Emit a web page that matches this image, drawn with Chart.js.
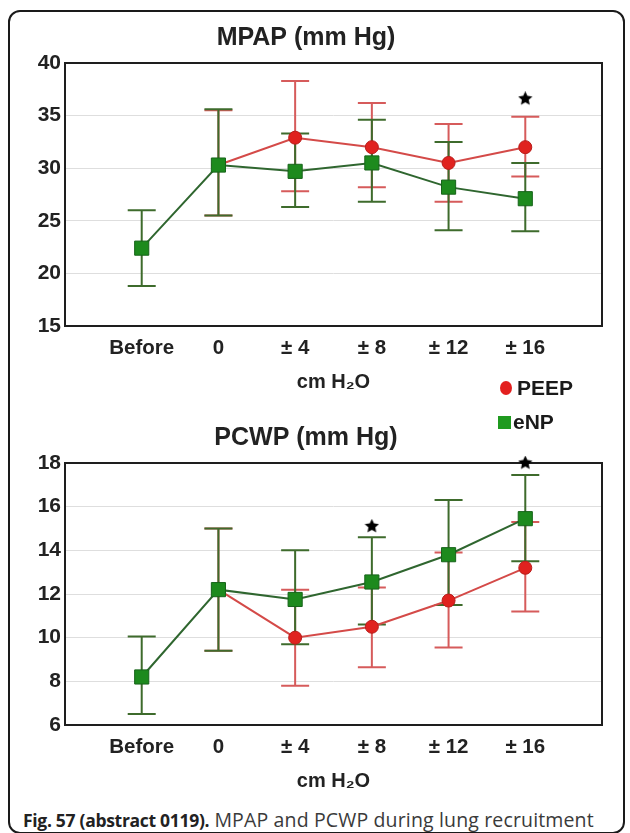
<!DOCTYPE html>
<html>
<head>
<meta charset="utf-8">
<script src="https://cdn.jsdelivr.net/npm/chart.js@4.4.1/dist/chart.umd.min.js"></script>
<style>
  body { margin: 0; background: #fff; width: 630px; height: 833px; position: relative; overflow: hidden; }
  #frame { position: absolute; left: 8px; top: 10px; width: 613px; height: 820px; border: 2px solid #1a1a1a; border-radius: 12px; }
  .wrap { position: absolute; left: 10px; width: 610px; }
  #topWrap { top: 14px; height: 380px; }
  #botWrap { top: 414px; height: 379px; }
  .leg { position: absolute; display: flex; align-items: center; font: bold 21px "Liberation Sans", Arial, sans-serif; color: #1a1a1a; }
  .dot { display: inline-block; width: 12px; height: 14px; border-radius: 50%; background: #e3201f; margin-right: 5px; }
  .sq { display: inline-block; width: 13px; height: 13px; background: #1f9a1f; margin-right: 2px; }
  #caption { position: absolute; left: 23px; top: 806px; font: 19.5px "Open Sans", sans-serif; color: #3a3a3a; white-space: nowrap; letter-spacing: 0.15px; }
  #caption b { color: #222; font-weight: 700; font-size: 17.5px; letter-spacing: -0.3px; }
</style>
</head>
<body>
<div id="frame"></div>
<div class="wrap" id="topWrap"><canvas id="mpapChart"></canvas></div>
<div class="wrap" id="botWrap"><canvas id="pcwpChart"></canvas></div>
<div class="leg" style="left:500px;top:376px"><span class="dot"></span>PEEP</div>
<div class="leg" style="left:498px;top:410px"><span class="sq"></span>eNP</div>
<div id="caption"><b>Fig. 57 (abstract 0119).</b> MPAP and PCWP during lung recruitment</div>

<script>
const categories = ["Before", "0", "± 4", "± 8", "± 12", "± 16"];

// MPAP (mm Hg)
const mpapTicks = [15, 20, 25, 30, 35, 40];
const mpapPeep = [null, 30.3, 32.9, 32.0, 30.5, 32.0];
const mpapPeepHi = [null, 35.5, 38.3, 36.2, 34.2, 34.9];
const mpapPeepLo = [null, 25.5, 27.8, 28.2, 26.8, 29.2];
const mpapEnp = [22.4, 30.3, 29.7, 30.5, 28.2, 27.1];
const mpapEnpHi = [26.0, 35.6, 33.3, 34.6, 32.5, 30.5];
const mpapEnpLo = [18.8, 25.5, 26.3, 26.8, 24.1, 24.0];
const mpapStars = [null, null, null, null, null, 36.6];

// PCWP (mm Hg)
const pcwpTicks = [6, 8, 10, 12, 14, 16, 18];
const pcwpPeep = [null, 12.2, 10.0, 10.5, 11.7, 13.2];
const pcwpPeepHi = [null, 15.0, 12.2, 12.3, 13.9, 15.3];
const pcwpPeepLo = [null, 9.4, 7.8, 8.65, 9.55, 11.2];
const pcwpEnp = [8.2, 12.2, 11.75, 12.55, 13.8, 15.45];
const pcwpEnpHi = [10.05, 15.0, 14.0, 14.6, 16.3, 17.45];
const pcwpEnpLo = [6.5, 9.4, 9.7, 10.6, 11.5, 13.5];
const pcwpStars = [null, null, null, 15.1, null, 18.0];

const RED_LINE = "#d44a48";
const RED_BAR = "#d65b5b";
const GREEN_LINE = "#2f662f";
const GREEN_BAR = "#3e6b2c";
const FONT = "'Liberation Sans', Arial, sans-serif";

function toPoints(arr) {
  return arr.map((v, i) => (v == null ? null : { x: i + 1, y: v })).filter(p => p);
}

function starImage(size) {
  const c = document.createElement("canvas");
  c.width = c.height = size;
  const g = c.getContext("2d");
  g.fillStyle = "#000";
  g.beginPath();
  for (let i = 0; i < 10; i++) {
    const r = i % 2 ? size * 0.24 : size / 2;
    const a = -Math.PI / 2 + i * Math.PI / 5;
    g.lineTo(size / 2 + r * Math.cos(a), size / 2 + r * Math.sin(a));
  }
  g.closePath();
  g.fill();
  return c;
}
const star = starImage(15);

// plot box drawn around the chart area
const plotBox = {
  id: "plotBox",
  beforeDatasetsDraw(chart) {
    const { ctx, chartArea: a } = chart;
    ctx.save();
    ctx.strokeStyle = "#1e1e1e";
    ctx.lineWidth = 2;
    ctx.strokeRect(a.left, a.top, a.right - a.left, a.bottom - a.top);
    ctx.restore();
  }
};

function errorBars(sets) {
  return {
    id: "errorBars",
    beforeDatasetsDraw(chart) {
      const { ctx, scales: { x, y } } = chart;
      sets.forEach(s => {
        ctx.save();
        ctx.strokeStyle = s.color;
        ctx.lineWidth = 2;
        ctx.beginPath();
        s.mean.forEach((m, i) => {
          if (m == null) return;
          const px = x.getPixelForValue(i + 1);
          const hi = y.getPixelForValue(s.hi[i]);
          const lo = y.getPixelForValue(s.lo[i]);
          ctx.moveTo(px, hi); ctx.lineTo(px, lo);
          ctx.moveTo(px - 14, hi); ctx.lineTo(px + 14, hi);
          ctx.moveTo(px - 14, lo); ctx.lineTo(px + 14, lo);
        });
        ctx.stroke();
        ctx.restore();
      });
    }
  };
}

function makeChart(id, title, ticks, peep, peepHi, peepLo, enp, enpHi, enpLo, stars) {
  return new Chart(document.getElementById(id), {
    type: "line",
    data: {
      datasets: [
        {
          label: "sig",
          data: toPoints(stars),
          showLine: false,
          pointStyle: star,
          pointRadius: 7,
          clip: false
        },
        {
          label: "eNP",
          data: toPoints(enp),
          borderColor: GREEN_LINE,
          borderWidth: 2,
          pointStyle: "rect",
          pointRadius: 10,
          pointBackgroundColor: "#1d8a1d",
          pointBorderColor: "#17641a",
          pointBorderWidth: 1,
          tension: 0
        },
        {
          label: "PEEP",
          data: toPoints(peep),
          borderColor: RED_LINE,
          borderWidth: 2,
          pointStyle: "circle",
          pointRadius: 6.5,
          pointBackgroundColor: "#e0221f",
          pointBorderColor: "#b81d1b",
          pointBorderWidth: 1,
          tension: 0
        }
      ]
    },
    options: {
      responsive: true,
      maintainAspectRatio: false,
      animation: false,
      layout: { padding: { left: 0, right: 18, top: 0, bottom: 0 } },
      plugins: {
        legend: { display: false },
        tooltip: { enabled: false },
        title: {
          display: true,
          text: title,
          color: "#222",
          font: { family: FONT, size: 25, weight: "bold" },
          padding: { top: 9, bottom: 10 }
        }
      },
      scales: {
        x: {
          type: "linear",
          min: 0,
          max: categories.length + 1,
          afterBuildTicks(s) { s.ticks = categories.map((c, i) => ({ value: i + 1 })); },
          afterFit(s) { s.height = 68; },
          ticks: {
            callback: v => categories[v - 1],
            color: "#222",
            font: { family: FONT, size: 20.5, weight: "bold" },
            padding: 2,
            maxRotation: 0,
            autoSkip: false
          },
          grid: { display: false },
          border: { display: false },
          title: {
            display: true,
            text: "cm H₂O",
            color: "#222",
            font: { family: FONT, size: 20, weight: "bold" },
            padding: { top: 2, bottom: 0 }
          }
        },
        y: {
          min: ticks[0],
          max: ticks[ticks.length - 1],
          afterBuildTicks(s) { s.ticks = ticks.map(v => ({ value: v })); },
          afterFit(s) { s.width = 55; },
          ticks: {
            color: "#222",
            font: { family: FONT, size: 21, weight: "bold" },
            padding: 4
          },
          grid: { color: "#dedede", lineWidth: 1, drawTicks: false },
          border: { display: false }
        }
      }
    },
    plugins: [
      plotBox,
      errorBars([
        { mean: peep, hi: peepHi, lo: peepLo, color: RED_BAR },
        { mean: enp, hi: enpHi, lo: enpLo, color: GREEN_BAR }
      ])
    ]
  });
}

makeChart("mpapChart", "MPAP (mm Hg)", mpapTicks, mpapPeep, mpapPeepHi, mpapPeepLo,
  mpapEnp, mpapEnpHi, mpapEnpLo, mpapStars);
makeChart("pcwpChart", "PCWP (mm Hg)", pcwpTicks, pcwpPeep, pcwpPeepHi, pcwpPeepLo,
  pcwpEnp, pcwpEnpHi, pcwpEnpLo, pcwpStars);
</script>
</body>
</html>
